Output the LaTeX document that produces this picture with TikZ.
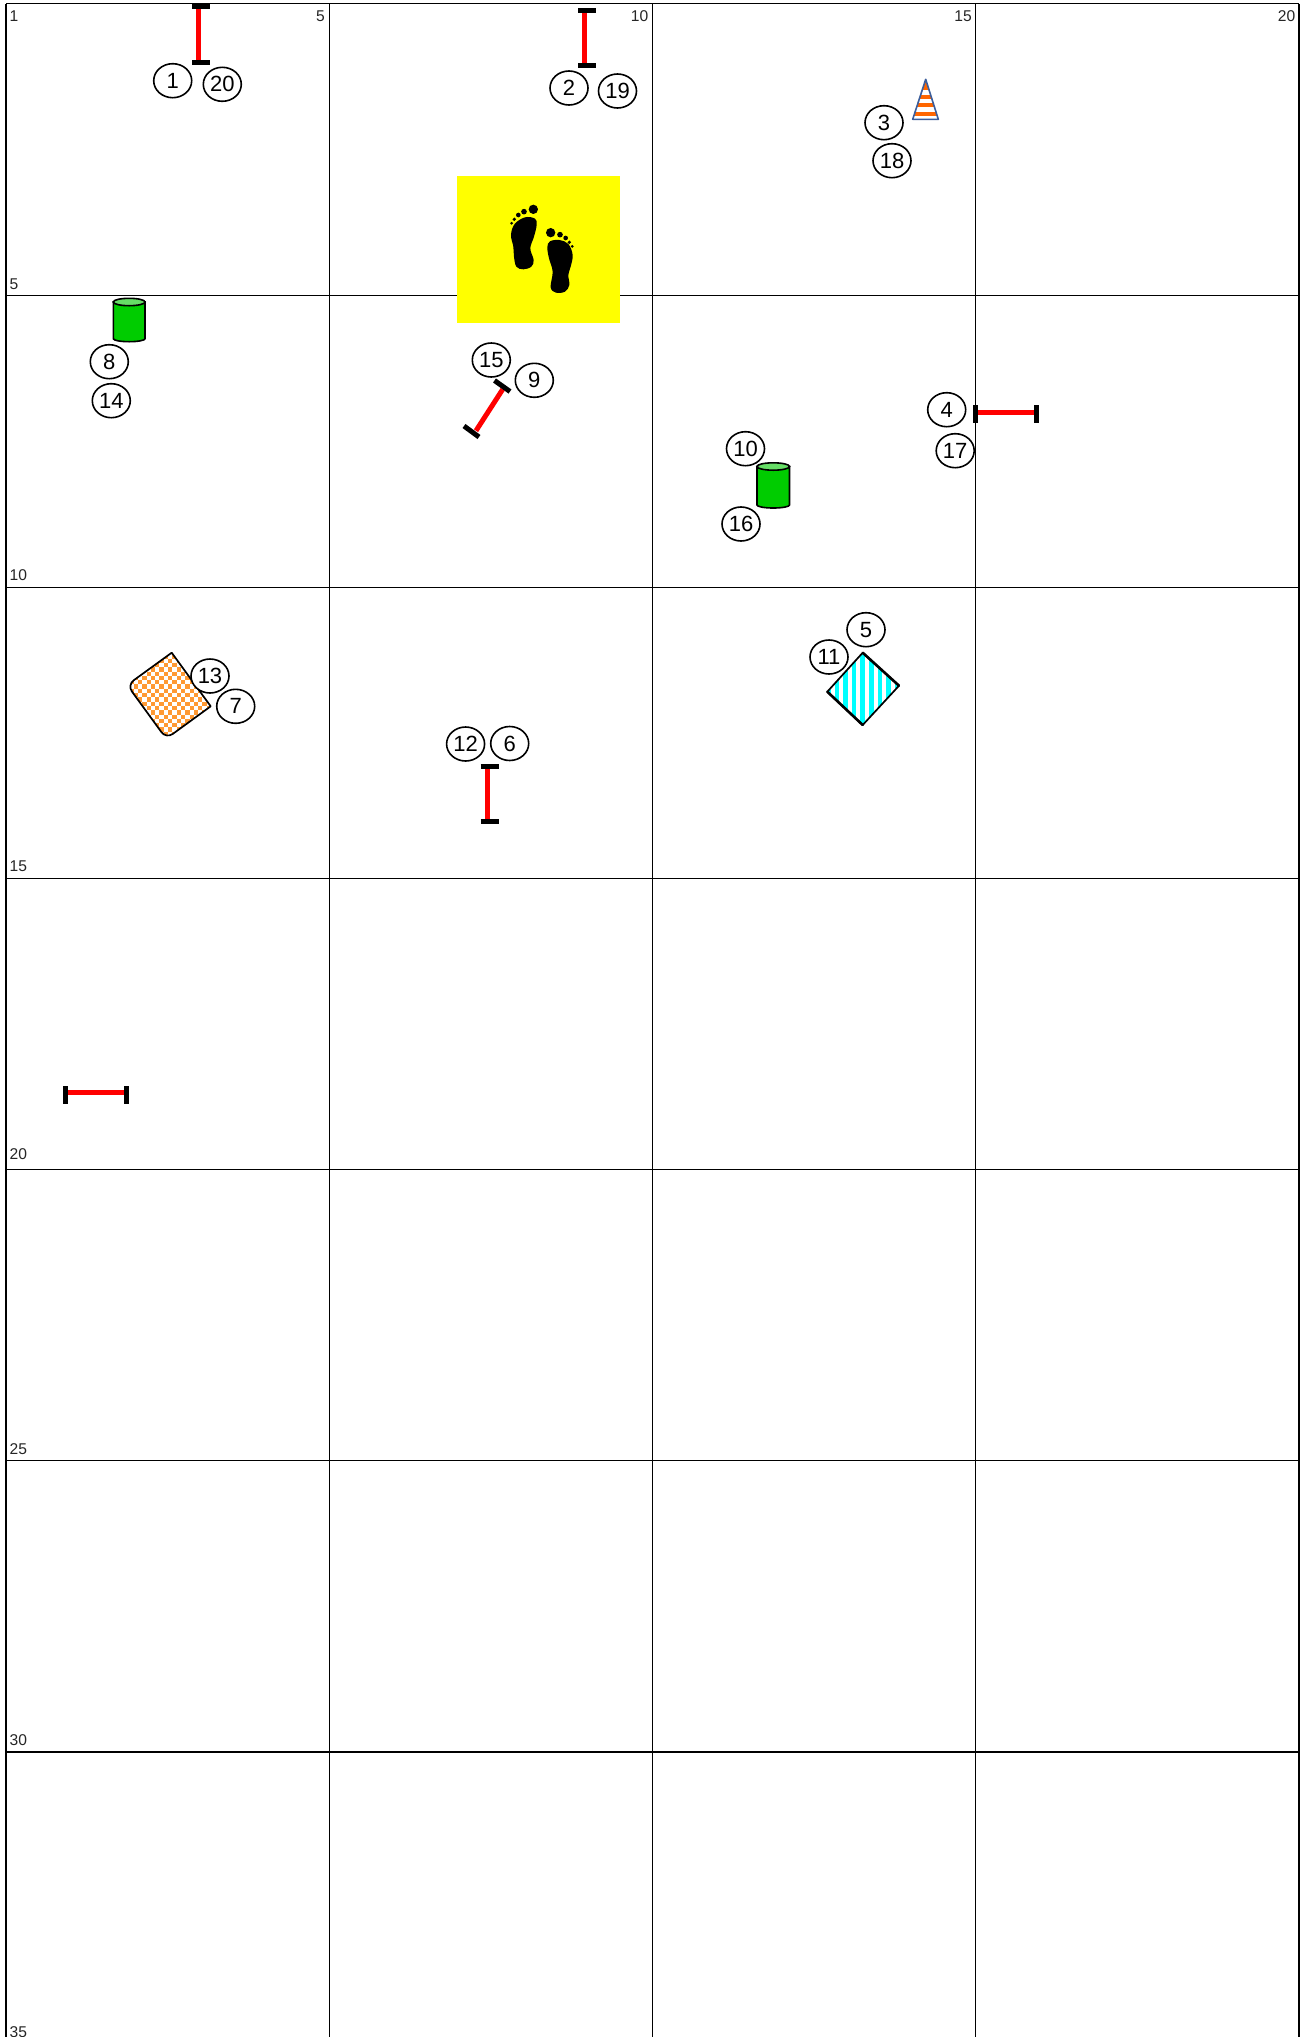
\documentclass[tikz,border=0pt]{standalone}
\usepackage{fontspec}
\setmainfont{Liberation Sans}
\usetikzlibrary{shapes.geometric}
\tikzset{
  x=1pt,y=-1pt,
  gridline/.style={draw=black,line width=1.2pt},
  gridvert/.style={draw=black,line width=1.5pt},
  outerline/.style={draw=black,line width=1.8pt},
  num/.style={draw=black,line width=1.6pt,ellipse,fill=white,minimum width=38pt,minimum height=34pt,inner sep=0pt,font=\fontsize{22}{22}\selectfont},
  corner/.style={font=\fontsize{15.6}{16}\selectfont,inner sep=0pt,text=black!85},
  barbar/.style={draw=barred,line width=5pt},
  barcap/.style={draw=black,line width=5pt},
}
\definecolor{barred}{RGB}{255,0,0}
\definecolor{yel}{RGB}{255,255,0}
\definecolor{cyn}{RGB}{0,255,255}
\definecolor{conecol}{HTML}{3B5E9C}
\definecolor{stripeo}{HTML}{FF6600}
\definecolor{checko}{HTML}{FF9933}
\definecolor{cylg}{HTML}{00CC00}
\definecolor{cylt}{HTML}{66DD66}
\begin{document}
\begin{tikzpicture}
\useasboundingbox (0,0) rectangle (1313,2037);
\fill[white] (0,0) rectangle (1313,2037);
% grid
\foreach \yy in {295.5,587.5,878.5,1169.5,1460.5} \draw[gridline] (6,\yy) -- (1299,\yy);
\draw[outerline] (6,1752) -- (1299,1752);
\draw[outerline] (6,3.5) -- (1299,3.5);
\draw[outerline] (6,3.5) -- (6,2037);
\draw[outerline] (1299,3.5) -- (1299,2037);
\foreach \xx in {329.5,652.5,975.5} \draw[gridvert] (\xx,3.5) -- (\xx,2037);
% corner labels
\node[corner,anchor=base west] (c1) at (9.5,21) {1};
\node[corner,anchor=base east] (c5a) at (325,21) {5};
\node[corner,anchor=base east] (c10a) at (648.5,21) {10};
\node[corner,anchor=base east] (c15a) at (972,21) {15};
\node[corner,anchor=base east] (c20a) at (1295.5,21) {20};
\node[corner,anchor=base west] (c5b) at (9.5,289.5) {5};
\node[corner,anchor=base west] (c10b) at (9.5,580.5) {10};
\node[corner,anchor=base west] (c15b) at (9.5,871.5) {15};
\node[corner,anchor=base west] (c20b) at (9.5,1159) {20};
\node[corner,anchor=base west] (c25b) at (9.5,1454) {25};
\node[corner,anchor=base west] (c30b) at (9.5,1745.5) {30};
\node[corner,anchor=base west] (c35b) at (9.5,2037.5) {35};
% yellow square with feet
\fill[yel] (457,176) rectangle (620,323);
\begin{scope}[shift={(440,160)},x=0.3333pt,y=-0.3333pt]
  \fill[black] plot[smooth cycle,tension=0.6] coordinates {(213,225) (224,192) (255,172) (285,176) (290,195) (282,230) (271,265) (281,300) (274,320) (250,328) (229,320) (222,290) (220,260)};
  \foreach \tx/\ty/\tr in {280/148/14,252/155/8.5,235/165/7,223/178/5.5,215/190/4.5} \fill[black] (\tx,\ty) circle[radius=\tr];
  \fill[black] plot[smooth cycle,tension=0.6] coordinates {(322,262) (330,244) (358,240) (385,252) (398,285) (392,320) (385,345) (388,375) (375,395) (348,398) (332,382) (338,335) (327,295)};
  \foreach \tx/\ty/\tr in {332/218/14,360/224/8.5,377/234/7,388/247/5.5,397/259/4.5} \fill[black] (\tx,\ty) circle[radius=\tr];
\end{scope}
% barriers
\draw[barbar] (198.7,7) -- (198.7,62);
\draw[barcap] (192,6.5) -- (210,6.5);
\draw[barcap] (192,62) -- (210,62);
\draw[barbar] (584.4,10) -- (584.4,65);
\draw[barcap] (578,10) -- (596,10);
\draw[barcap] (578,65) -- (596,65);
\draw[barbar] (975.5,412) -- (1036.5,412);
\draw[barcap] (975.5,405) -- (975.5,423);
\draw[barcap] (1036.5,405) -- (1036.5,423);
\draw[barbar] (65.5,1092.5) -- (126.6,1092.5);
\draw[barcap] (65.5,1086) -- (65.5,1104);
\draw[barcap] (126.6,1086) -- (126.6,1104);
\draw[barbar] (487,766) -- (487,821);
\draw[barcap] (480.5,766) -- (498.5,766);
\draw[barcap] (480.5,821) -- (498.5,821);
\draw[barbar] (502.7,389.3) -- (476,430.7);
\draw[barcap] (494.5,380.5) -- (510,391.5);
\draw[barcap] (464,426) -- (479,437);
% cylinders
\foreach \cx/\cy/\cw/\ch in {113.3/298/31.7/43.7,757/462.5/32.5/45.5}{
  \draw[line width=1.6pt,fill=cylg] (\cx,\cy+4) -- (\cx,\cy+\ch-3) arc[start angle=180,end angle=0,x radius=\cw/2,y radius=3] -- (\cx+\cw,\cy+4) -- cycle;
  \draw[line width=1.6pt,fill=cylt] (\cx+\cw/2,\cy+4) ellipse[x radius=\cw/2,y radius=3.7];
}
% cone
\begin{scope}
  \clip (925.7,79.3) -- (938.3,119.3) -- (912.7,119.3) -- cycle;
  \fill[white] (905,75) rectangle (945,125);
  \foreach \sy in {94.5,103,111.5} \fill[stripeo] (905,\sy) rectangle (945,\sy+4.4);
  \fill[stripeo] (905,79) rectangle (945,89.5);
\end{scope}
\draw[conecol,line width=1.6pt,line join=round] (925.7,79.3) -- (938.3,119.3) -- (912.7,119.3) -- cycle;
% checked rectangle
\begin{scope}
  \clip (171.7,652.7) -- (210.7,706.3) [rounded corners=8pt] -- (166.2,738.7) -- (127.2,685) [rounded corners=0pt] -- cycle;
  \foreach \ci in {0,...,20} \foreach \cj in {0,...,22} {
    \pgfmathparse{int(mod(\ci+\cj,2))}
    \ifnum\pgfmathresult=0 \fill[checko] (125+\ci*4.3,650+\cj*4.3) rectangle ++(4.3,4.3); \fi
  }
\end{scope}
\draw[line width=1.7pt,line join=round] (171.7,652.7) -- (210.7,706.3) [rounded corners=8pt] -- (166.2,738.7) -- (127.2,685) [rounded corners=0pt] -- cycle;
% striped diamond
\begin{scope}
  \clip (862.7,652.7) -- (899,685.7) -- (862.7,725) -- (827.3,691.7) -- cycle;
  \foreach \sx in {826,834.6,843.2,851.8,860.4,869,877.6,886.2,894.8} \fill[cyn] (\sx,650) rectangle (\sx+4.5,730);
\end{scope}
\draw[line width=1.7pt,line join=round] (862.7,652.7) -- (899,685.7) -- (862.7,725) -- (827.3,691.7) -- cycle;
\draw[line width=2.6pt,line cap=round] (862.7,652.7) -- (899,685.7);
\draw[line width=2.6pt,line cap=round] (862.7,725) -- (827.3,691.7);
% numbered circles
\node[num] (n1) at (172.7,80.7) {1};
\node[num] (n20) at (222.3,84.3) {20};
\node[num] (n2) at (569,88) {2};
\node[num] (n19) at (617.5,91) {19};
\node[num] (n3) at (884,122.7) {3};
\node[num] (n18) at (892,160.7) {18};
\node[num] (n8) at (109.3,361.7) {8};
\node[num] (n14) at (111.3,400.7) {14};
\node[num] (n15) at (491.3,360) {15};
\node[num] (n9) at (534.3,380.3) {9};
\node[num] (n10) at (745.5,448.7) {10};
\node[num] (n16) at (741,524) {16};
\node[num] (n4) at (946.7,409.7) {4};
\node[num] (n17) at (955.2,450.7) {17};
\node[num] (n13) at (210,676) {13};
\node[num] (n7) at (235.7,706.3) {7};
\node[num] (n5) at (866,629.7) {5};
\node[num] (n11) at (829,657) {11};
\node[num] (n12) at (465.6,744) {12};
\node[num] (n6) at (509.7,743.5) {6};
\end{tikzpicture}
\end{document}
